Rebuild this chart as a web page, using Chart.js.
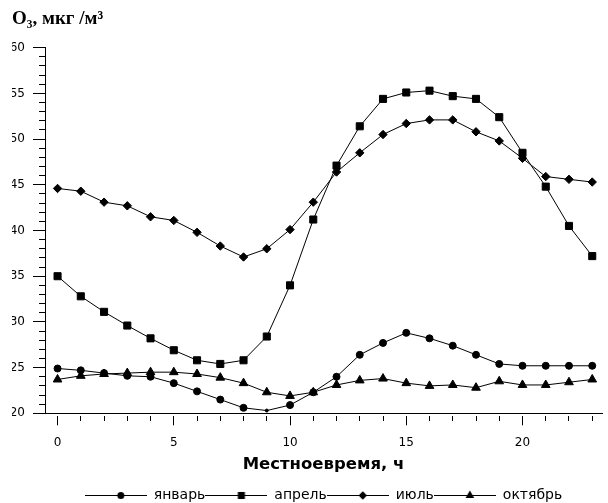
<!DOCTYPE html>
<html lang="ru">
<head>
  <meta charset="UTF-8">
  <title>O3 - суточный ход</title>
  <script src="https://cdn.jsdelivr.net/npm/chart.js"></script>
  <style>
    html, body { margin: 0; padding: 0; background: #fff; }
    .chart-box { width: 608px; height: 503px; }
  </style>
</head>
<body>
  <div class="chart-box">
    <canvas id="ozoneChart"></canvas>
  </div>

  <script>
    // data
    const hours = [0, 1, 2, 3, 4, 5, 6, 7, 8, 9, 10, 11, 12, 13, 14, 15, 16, 17, 18, 19, 20, 21, 22, 23];
    const january = [24.9, 24.7, 24.4, 24.1, 24.0, 23.3, 22.4, 21.5, 20.6, 20.3, 20.9, 22.3, 24.0, 26.4, 27.7, 28.8, 28.2, 27.4, 26.4, 25.4, 25.2, 25.2, 25.2, 25.2];
    const april = [35.0, 32.8, 31.1, 29.6, 28.2, 26.9, 25.8, 25.4, 25.8, 28.4, 34.0, 41.2, 47.1, 51.4, 54.4, 55.1, 55.3, 54.7, 54.4, 52.4, 48.5, 44.8, 40.5, 37.2];
    const july = [44.6, 44.3, 43.1, 42.7, 41.5, 41.1, 39.8, 38.3, 37.1, 38.0, 40.1, 43.1, 46.4, 48.5, 50.5, 51.7, 52.1, 52.1, 50.8, 49.8, 47.9, 45.9, 45.6, 45.3];
    const october = [23.7, 24.1, 24.3, 24.4, 24.5, 24.5, 24.3, 23.9, 23.3, 22.3, 21.9, 22.3, 23.1, 23.6, 23.8, 23.3, 23.0, 23.1, 22.8, 23.5, 23.1, 23.1, 23.4, 23.7];
    const seriesNames = ['январь', 'апрель', 'июль', 'октябрь'];
    const xTickLabels = [0, 5, 10, 15, 20];
    const yTickLabels = [20, 25, 30, 35, 40, 45, 50, 55, 60];

    const markers = [
      { style: 'circle', radius: 3.5 },
      { style: 'rect', radius: 5 },
      { style: 'rectRot', radius: 4.2 },
      { style: 'triangle', radius: 5 }
    ];

    // small line + marker picture for the legend
    function legendIcon(m) {
      const c = document.createElement('canvas');
      c.width = 62;
      c.height = 12;
      const g = c.getContext('2d');
      g.strokeStyle = '#000';
      g.fillStyle = '#000';
      g.lineWidth = 1;
      g.beginPath();
      g.moveTo(0, 6.5);
      g.lineTo(62, 6.5);
      g.stroke();
      const cx = 36, cy = 6.5, r = m.radius;
      g.beginPath();
      if (m.style === 'circle') {
        g.arc(cx, cy, r, 0, Math.PI * 2);
      } else if (m.style === 'rect') {
        const s = r * Math.SQRT1_2;
        g.rect(cx - s, cy - s, 2 * s, 2 * s);
      } else if (m.style === 'rectRot') {
        g.moveTo(cx - r, cy); g.lineTo(cx, cy - r); g.lineTo(cx + r, cy); g.lineTo(cx, cy + r);
        g.closePath();
      } else {
        g.moveTo(cx, cy - r);
        g.lineTo(cx + r * Math.sin(Math.PI * 2 / 3), cy - r * Math.cos(Math.PI * 2 / 3));
        g.lineTo(cx + r * Math.sin(Math.PI * 4 / 3), cy - r * Math.cos(Math.PI * 4 / 3));
        g.closePath();
      }
      g.fill();
      return c;
    }

    const values = [january, april, july, october];
    const datasets = values.map((vals, i) => ({
      label: seriesNames[i],
      data: hours.map((h, j) => ({ x: h, y: vals[j] })),
      borderColor: '#000',
      backgroundColor: '#000',
      borderWidth: 1,
      pointStyle: markers[i].style,
      // january 09h has only a tiny dot on the original
      pointRadius: ctx => (i === 0 && ctx.dataIndex === 9) ? 1.5 : markers[i].radius,
      pointBorderWidth: 1,
      tension: 0
    }));

    new Chart(document.getElementById('ozoneChart'), {
      type: 'line',
      data: { datasets: datasets },
      options: {
        responsive: true,
        maintainAspectRatio: false,
        animation: false,
        layout: { padding: { left: 12, right: 0, top: 0, bottom: -9 } },
        plugins: {
          tooltip: { enabled: false },
          title: {
            display: true,
            text: 'O₃, мкг /м³',
            align: 'start',
            color: '#000',
            font: { family: '"Liberation Serif", serif', size: 19, weight: 'bold' },
            padding: { top: 7.6, bottom: 17.3 }
          },
          legend: {
            position: 'bottom',
            fullSize: false,
            labels: {
              usePointStyle: true,
              pointStyleWidth: 62,
              padding: 0,
              color: '#000',
              font: { family: '"DejaVu Sans"', size: 14 },
              generateLabels: chart => chart.data.datasets.map((ds, i) => ({
                text: ds.label,
                pointStyle: legendIcon(markers[i]),
                fillStyle: '#000',
                strokeStyle: '#000',
                lineWidth: 0,
                fontColor: '#000',
                hidden: false,
                datasetIndex: i
              }))
            }
          }
        },
        scales: {
          x: {
            type: 'linear',
            min: -0.54,
            max: 23.42,
            afterBuildTicks: s => { s.ticks = hours.map(h => ({ value: h })); },
            ticks: {
              autoSkip: false,
              maxRotation: 0,
              padding: 10.5,
              color: '#000',
              font: { family: '"DejaVu Sans"', size: 12 },
              callback: v => xTickLabels.includes(v) ? String(v) : ''
            },
            grid: {
              drawOnChartArea: false,
              tickLength: 12,
              tickColor: '#000',
              tickBorderDash: ctx => xTickLabels.includes(ctx.tick.value) ? [0, 2, 10, 100] : [0, 2, 5, 100]
            },
            border: { display: true, color: '#000', width: 1 },
            title: {
              display: true,
              text: 'Местноевремя, ч',
              color: '#000',
              font: { family: '"DejaVu Sans"', size: 16.5, weight: 'bold' },
              padding: { top: -5.6, bottom: 13.1 }
            }
          },
          y: {
            min: 20,
            max: 60,
            afterBuildTicks: s => {
              const t = [];
              for (let v = 20; v <= 60; v++) t.push({ value: v });
              s.ticks = t;
            },
            afterFit: s => { s.width = 33; },
            ticks: {
              autoSkip: false,
              padding: 8,
              color: '#000',
              font: { family: '"DejaVu Sans"', size: 12 },
              callback: v => yTickLabels.includes(v) ? String(v) : ''
            },
            grid: {
              drawOnChartArea: false,
              tickLength: 12,
              tickColor: '#000',
              tickBorderDash: ctx => yTickLabels.includes(ctx.tick.value) ? [] : [0, 6, 6, 100]
            },
            border: { display: true, color: '#000', width: 1 }
          }
        }
      }
    });
  </script>
</body>
</html>
